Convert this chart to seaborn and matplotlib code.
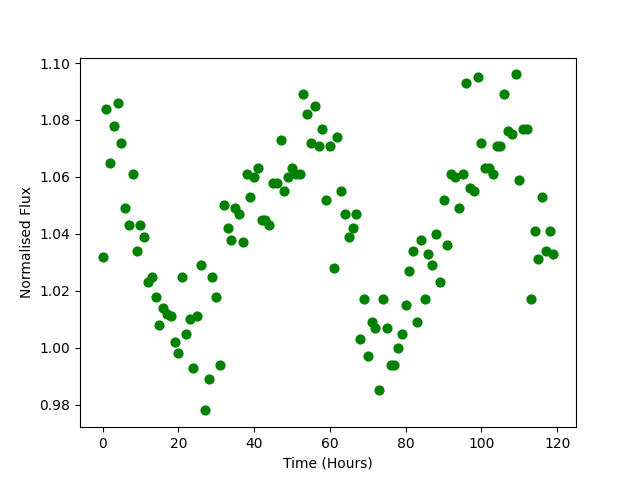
import matplotlib
matplotlib.use("Agg")
import matplotlib.pyplot as plt
import seaborn as sns
import pandas as pd

time_hours = list(range(120))
flux = [
    1.032, 1.084, 1.065, 1.078, 1.086, 1.072, 1.049, 1.043, 1.061, 1.034,
    1.043, 1.039, 1.023, 1.025, 1.018, 1.008, 1.014, 1.012, 1.011, 1.002,
    0.998, 1.025, 1.005, 1.010, 0.993, 1.011, 1.029, 0.978, 0.989, 1.025,
    1.018, 0.994, 1.050, 1.042, 1.038, 1.049, 1.047, 1.037, 1.061, 1.053,
    1.060, 1.063, 1.045, 1.045, 1.043, 1.058, 1.058, 1.073, 1.055, 1.060,
    1.063, 1.061, 1.061, 1.089, 1.082, 1.072, 1.085, 1.071, 1.077, 1.052,
    1.071, 1.028, 1.074, 1.055, 1.047, 1.039, 1.042, 1.047, 1.003, 1.017,
    0.997, 1.009, 1.007, 0.985, 1.017, 1.007, 0.994, 0.994, 1.000, 1.005,
    1.015, 1.027, 1.034, 1.009, 1.038, 1.017, 1.033, 1.029, 1.040, 1.023,
    1.052, 1.036, 1.061, 1.060, 1.049, 1.061, 1.093, 1.056, 1.055, 1.095,
    1.072, 1.063, 1.063, 1.061, 1.071, 1.071, 1.089, 1.076, 1.075, 1.096,
    1.059, 1.077, 1.077, 1.017, 1.041, 1.031, 1.053, 1.034, 1.041, 1.033,
]

df = pd.DataFrame({"Time (Hours)": time_hours, "Normalised Flux": flux})

fig, ax = plt.subplots(figsize=(6.4, 4.8), dpi=100)
sns.scatterplot(data=df, x="Time (Hours)", y="Normalised Flux", color="green",
                s=40, edgecolor="green", linewidth=1, ax=ax)
ax.set_xlabel("Time (Hours)")
ax.set_ylabel("Normalised Flux")
fig.savefig("out.png", dpi=100)
